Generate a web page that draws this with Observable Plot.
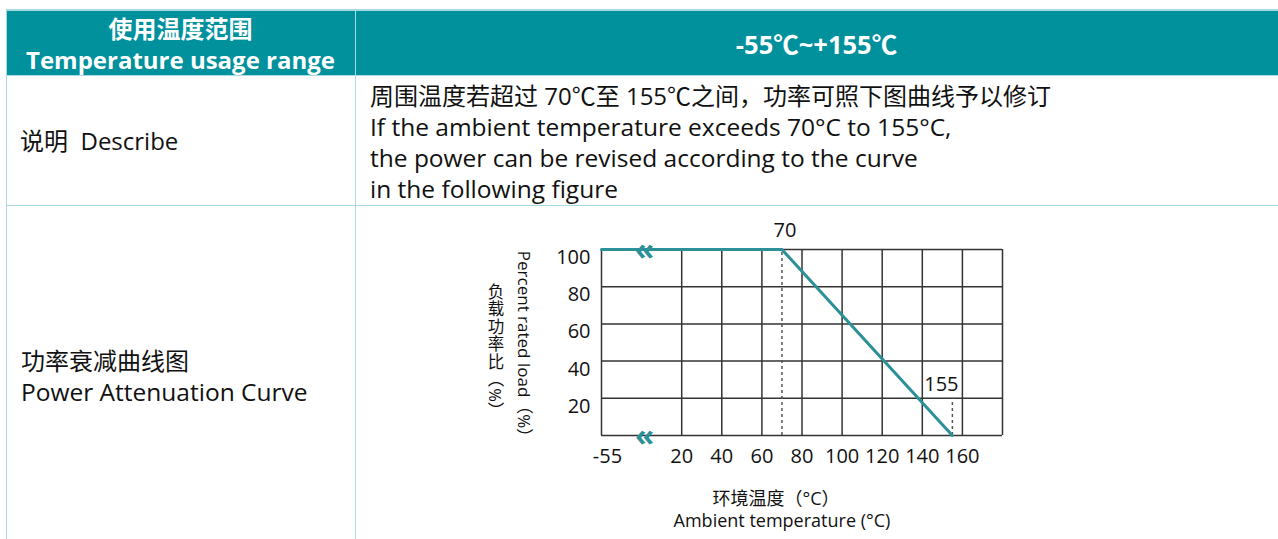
<!DOCTYPE html>
<html><head><meta charset="utf-8">
<script src="https://cdn.jsdelivr.net/npm/d3@7"></script>
<script src="https://cdn.jsdelivr.net/npm/@observablehq/plot@0.6"></script>
<style>
body{margin:0;background:#fff;font-family:"Open Sans","Noto Sans CJK SC",sans-serif;color:#111;}
#page{position:relative;width:1278px;height:539px;overflow:hidden;background:#fff;}
.abs{position:absolute;}
.hdr{background:#00919d;}
.bl{background:#a9d9e3;}
.htxt{color:#fff;font-weight:bold;font-size:24px;text-align:center;white-space:nowrap;}
.btxt{font-size:24px;white-space:nowrap;color:#111;}
.en{font-size:24.5px;}
</style></head>
<body>
<div id="page">
  <div class="abs hdr" style="left:6px;top:10px;width:1272px;height:65px;"></div>
  <div class="abs bl" style="left:6px;top:9px;width:1272px;height:1.5px;"></div>
  <div class="abs bl" style="left:6px;top:74.5px;width:1272px;height:1.5px;"></div>
  <div class="abs bl" style="left:6px;top:204.5px;width:1272px;height:1.5px;"></div>
  <div class="abs bl" style="left:5.5px;top:9px;width:1.5px;height:530px;"></div>
  <div class="abs bl" style="left:354.5px;top:9px;width:1.5px;height:530px;"></div>

  <div class="abs htxt" id="h1" style="left:6px;top:13px;width:349px;line-height:31px;"></div>
  <div class="abs htxt" id="h2" style="left:355px;top:28px;width:923px;line-height:32px;font-size:25.5px;"></div>
  <div class="abs btxt" id="r2a" style="left:20px;top:125px;line-height:32px;"></div>
  <div class="abs btxt" id="r2b" style="left:370px;top:79.5px;line-height:31px;"></div>
  <div class="abs btxt" id="r3a" style="left:21px;top:345px;line-height:31px;"></div>
  <div class="abs" id="chart" style="left:356px;top:206px;width:922px;height:333px;"></div>
</div>
<script>
// ---- table text ----
const headerLeft = ["使用温度范围", "Temperature usage range"];
const headerRight = "-55℃~+155℃";
const describeLabel = "说明\u00a0\u00a0Describe";
const describeLines = [
  "周围温度若超过 70℃至 155℃之间，功率可照下图曲线予以修订",
  "If the ambient temperature exceeds 70°C to 155°C,",
  "the power can be revised according to the curve",
  "in the following figure"
];
const curveLabel = ["功率衰减曲线图", "Power Attenuation Curve"];

// ---- chart data ----
const curveTemp = [-20, 70, 155];
const curveLoad = [100, 100, 0];
const gridX = [-20, 20, 40, 60, 80, 100, 120, 140, 160, 180];
const gridY = [0, 20, 40, 60, 80, 100];
const xTickPos = [-17, 20, 40, 60, 80, 100, 120, 140, 160];
const xTickLabels = ["-55", "20", "40", "60", "80", "100", "120", "140", "160"];
const yTicks = [20, 40, 60, 80, 100];
const breakMarks = [{t: 1.5, p: 100}, {t: 1.5, p: 0}];
const kneeTemp = 70;
const endTemp = 155;
const yTitleEn = "Percent rated load（%）";
const yTitleCn = "负载功率比（%）";
const xTitleCn = "环境温度（°C）";
const xTitleEn = "Ambient temperature (°C)";

document.getElementById("h1").innerHTML = headerLeft.join("<br>");
document.getElementById("h2").textContent = headerRight;
document.getElementById("r2a").textContent = describeLabel;
document.getElementById("r2b").innerHTML = describeLines
  .map((s, i) => i === 0 ? s : `<span class="en">${s}</span>`).join("<br>");
document.getElementById("r3a").innerHTML = curveLabel
  .map((s, i) => i === 0 ? s : `<span class="en">${s}</span>`).join("<br>");

const teal = "#2b9097";
const gridColor = "#333";
const curve = curveTemp.map((t, i) => ({t, p: curveLoad[i]}));

const chart = Plot.plot({
  width: 922, height: 333,
  marginLeft: 245, marginRight: 276, marginTop: 43, marginBottom: 104,
  x: {domain: [-20, 180]},
  y: {domain: [0, 100]},
  style: {fontFamily: '"Open Sans","Noto Sans CJK SC",sans-serif', fontSize: "20px", color: "#111", background: "transparent"},
  marks: [
    Plot.ruleX(gridX, {y1: 0, y2: 100, stroke: gridColor, strokeWidth: 1.5}),
    Plot.ruleY(gridY, {x1: -20, x2: 180, stroke: gridColor, strokeWidth: 1.5}),
    Plot.ruleX([kneeTemp], {y1: 0, y2: 100, stroke: "#555", strokeWidth: 1.5, strokeDasharray: "3,3"}),
    Plot.ruleX([endTemp], {y1: 0, y2: 20, stroke: "#555", strokeWidth: 1.5, strokeDasharray: "3,3"}),
    Plot.line(curve, {x: "t", y: "p", stroke: teal, strokeWidth: 3}),
    Plot.text(breakMarks, {x: "t", y: "p", text: () => "«", fill: teal, fontSize: 31, fontWeight: "bold", dy: 1}),
    Plot.text([String(kneeTemp)], {x: kneeTemp + 1.5, y: 100, text: d => d, dy: -19, fontSize: 20}),
    Plot.text([String(endTemp)], {x: endTemp - 5.5, y: 20, text: d => d, dy: -13.5, fontSize: 20}),
    Plot.axisX(xTickPos, {tickSize: 0, tickPadding: 13, fontSize: 20, label: null, tickFormat: (d, i) => xTickLabels[i]}),
    Plot.axisY(yTicks, {tickSize: 0, tickPadding: 11, fontSize: 20, dy: 8, label: null}),
    Plot.text([yTitleEn], {frameAnchor: "left", y: 47, dx: -78, rotate: 90, fontSize: 17, textAnchor: "middle", text: d => d}),
    Plot.text([yTitleCn], {frameAnchor: "left", y: 45, dx: -106, fontSize: 16.5, textAnchor: "middle", text: d => d}),
    Plot.text([xTitleCn], {x: 67, y: 0, dy: 64, fontSize: 18, text: d => d}),
    Plot.text([xTitleEn], {x: 70, y: 0, dy: 86, fontSize: 18, text: d => d})
  ]
});
// vertical writing for the Chinese y title (CJK upright, Latin sideways)
d3.select(chart).selectAll("text")
  .filter(function() { return this.textContent === yTitleCn; })
  .attr("y", null)
  .attr("writing-mode", "vertical-rl")
  .style("writing-mode", "vertical-rl")
  .style("letter-spacing", "1px");
document.getElementById("chart").appendChild(chart);
</script>
</body></html>
